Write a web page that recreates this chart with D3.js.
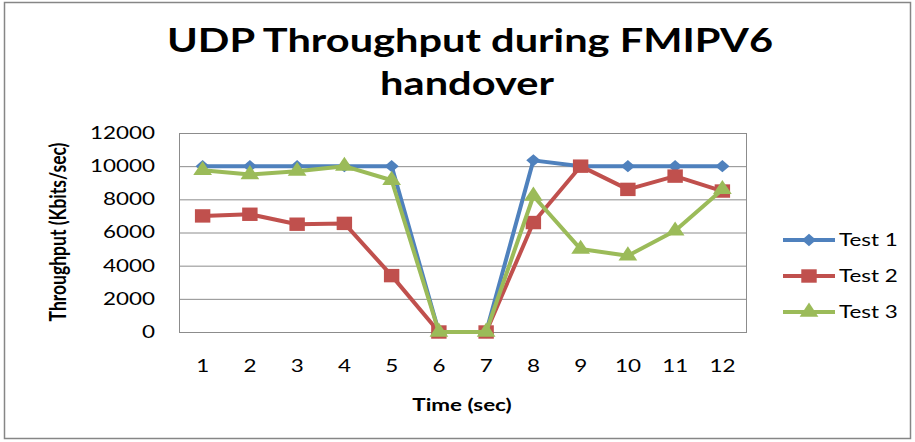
<!DOCTYPE html>
<html><head><meta charset="utf-8">
<script src="https://cdn.jsdelivr.net/npm/d3@7"></script>
<style>body{margin:0;background:#fff}svg{display:block}text{font-family:Lato,"Open Sans",sans-serif;fill:#000}</style>
</head><body><svg id="c" width="915" height="442"></svg>
<script>
const categories = ["1","2","3","4","5","6","7","8","9","10","11","12"];
const test1 = [10000,10000,10000,10000,10000,0,0,10350,10000,10000,10000,10000];
const test2 = [7000,7100,6500,6550,3400,0,0,6600,10000,8600,9400,8500];
const test3 = [9750,9500,9700,10000,9150,0,0,8200,5000,4600,6100,8600];
const yTicks = [0,2000,4000,6000,8000,10000,12000];
const seriesNames = ["Test 1","Test 2","Test 3"];
const colors = ["#4F81BD","#C0504D","#9BBB59"];
const symbols = [d3.symbolDiamond2, d3.symbolSquare, d3.symbolTriangle];
const symSizes = [98, 180, 115];

const SX = 1.32;   // horizontal text stretch
const MX = 1.15;   // horizontal marker stretch

const svg = d3.select("#c");
svg.append("rect").attr("x",4.5).attr("y",2.5).attr("width",906).attr("height",436)
  .attr("fill","#fff").attr("stroke","#868686").attr("stroke-width",1.5);

const L=179, R=746, T=133, B=332;
const x = d3.scaleBand().domain(categories).range([L,R]);
const y = d3.scaleLinear().domain([0,12000]).range([B,T]);

svg.append("g").selectAll("line").data(yTicks).join("line")
  .attr("x1",L).attr("x2",R).attr("y1",d=>y(d)+0.5).attr("y2",d=>y(d)+0.5)
  .attr("stroke","#8c8c8c").attr("stroke-width",1);
svg.append("rect").attr("x",L+0.5).attr("y",T+0.5).attr("width",R-L).attr("height",B-T)
  .attr("fill","none").attr("stroke","#8c8c8c");

const yAxis = svg.append("g").attr("transform",`translate(${L},0)`)
  .call(d3.axisLeft(y).tickValues(yTicks).tickSize(0).tickFormat(d3.format("d")));
yAxis.select(".domain").remove();
yAxis.selectAll("text").attr("x",0).attr("transform",`translate(-24,0) scale(${SX},1)`)
  .style("font-size","17px").style("font-family","Lato, sans-serif");

const xAxis = svg.append("g").attr("transform",`translate(0,${B})`)
  .call(d3.axisBottom(x).tickSize(0).tickPadding(28));
xAxis.select(".domain").remove();
xAxis.selectAll("text").attr("transform",`scale(${SX},1)`)
  .style("font-size","17px").style("font-family","Lato, sans-serif");

const cx = d => x(d)+x.bandwidth()/2;
[test1,test2,test3].forEach((vals,i)=>{
  const pts = vals.map((v,j)=>[cx(categories[j]), y(v)]);
  svg.append("path").attr("d",d3.line()(pts)).attr("fill","none")
    .attr("stroke",colors[i]).attr("stroke-width",4).attr("stroke-linejoin","round");
  svg.append("g").selectAll("path").data(pts).join("path")
    .attr("transform",d=>`translate(${d[0]},${d[1]}) scale(${MX},1)`)
    .attr("d",d3.symbol().type(symbols[i]).size(symSizes[i])).attr("fill",colors[i]);
});

function stext(px, py, str, size, weight, anchor){
  return svg.append("text").attr("transform",`translate(${px},${py}) scale(${SX},1)`)
    .attr("text-anchor",anchor||"middle").style("font-size",size+"px")
    .style("font-weight",weight||"normal").text(str);
}
stext(470, 52, "UDP Throughput during FMIPV6", 31.5, "bold");
stext(467, 95, "handover", 31.5, "bold");
stext(462, 411, "Time (sec)", 17, "bold");
svg.append("text").attr("transform",`translate(66,232) rotate(-90) scale(1,${SX})`)
  .attr("text-anchor","middle").style("font-size","17.5px").style("font-weight","bold")
  .text("Throughput (Kbits/sec)");

seriesNames.forEach((n,i)=>{
  const ly = 240 + i*36;
  svg.append("line").attr("x1",783).attr("x2",835).attr("y1",ly).attr("y2",ly)
    .attr("stroke",colors[i]).attr("stroke-width",4);
  svg.append("path").attr("transform",`translate(809,${ly}) scale(${MX},1)`)
    .attr("d",d3.symbol().type(symbols[i]).size(symSizes[i])).attr("fill",colors[i]);
  stext(839, ly+6, n, 17, "normal", "start");
});
</script></body></html>
